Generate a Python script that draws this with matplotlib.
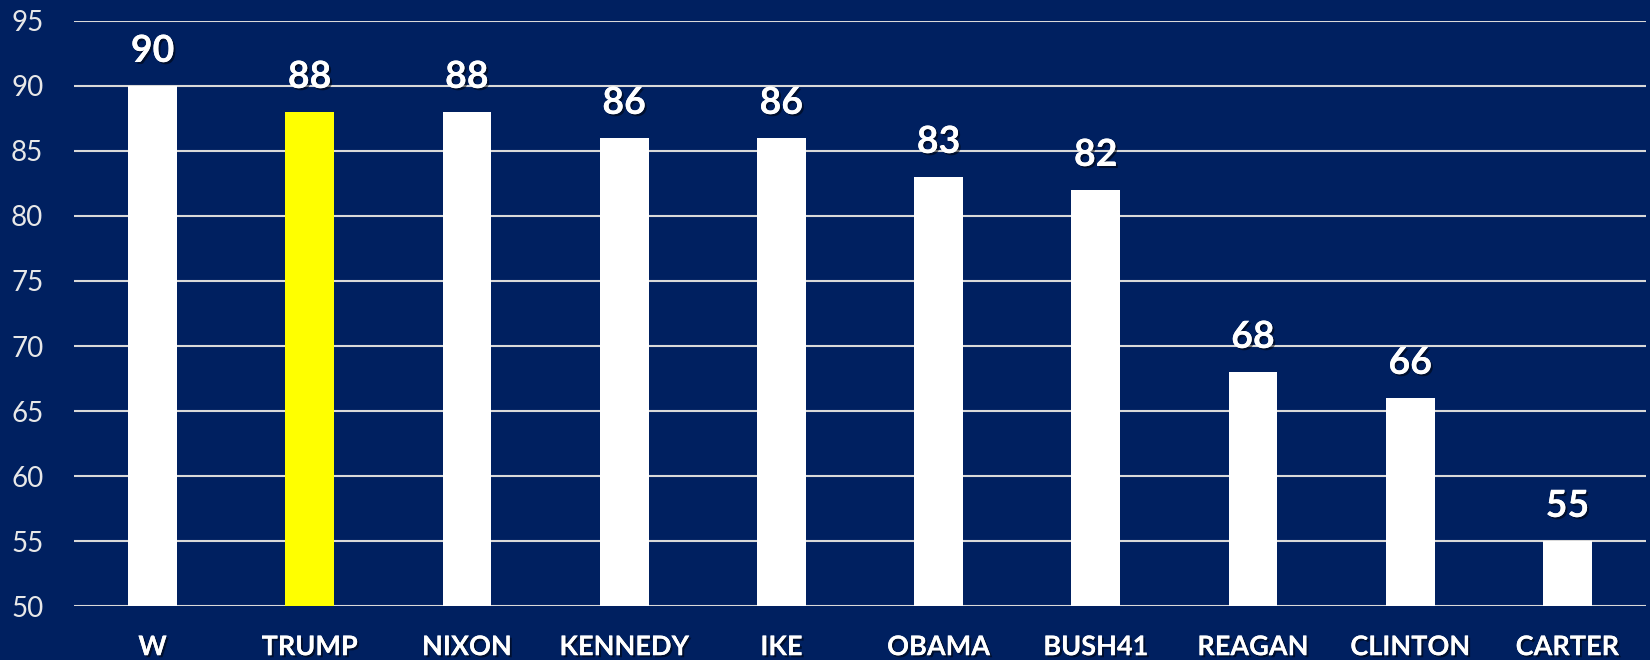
import matplotlib.pyplot as plt
import matplotlib.patheffects as pe

# data
names = ["W", "TRUMP", "NIXON", "KENNEDY", "IKE", "OBAMA", "BUSH41", "REAGAN", "CLINTON", "CARTER"]
values = [90, 88, 88, 86, 86, 83, 82, 68, 66, 55]
highlight = "TRUMP"
yticks = [50, 55, 60, 65, 70, 75, 80, 85, 90, 95]

bg = "#002060"
plt.rcParams['font.family'] = ['Lato', 'DejaVu Sans']

fig = plt.figure(figsize=(16.5, 6.6), dpi=100, facecolor=bg)
ax = fig.add_axes([0.0448, 0.0818, 0.9528, 0.8864], facecolor=bg)

colors = ["#FFFF00" if n == highlight else "#FFFFFF" for n in names]
x = range(len(names))
ax.bar(x, [v - 50 for v in values], bottom=50, width=0.31, color=colors, zorder=3)

shadow = [pe.withSimplePatchShadow(offset=(1.5, -1.5), shadow_rgbFace="black", alpha=0.5), pe.Normal()]
for i, v in enumerate(values):
    ax.annotate(str(v), (i, v), xytext=(0, 13), textcoords="offset points",
                ha="center", va="bottom", fontsize=27, fontweight="bold",
                color="white", path_effects=shadow)

ax.set_xlim(-0.5, len(names) - 0.5)
ax.set_ylim(50, 95)
ax.set_yticks(yticks)
ax.yaxis.grid(True, color="#D9D9D9", linewidth=1.5, zorder=0)
ax.set_axisbelow(True)
for s in ax.spines.values():
    s.set_visible(False)

ax.set_xticks(list(x))
ax.set_xticklabels(names, fontsize=19.5, fontweight="bold", color="white")
for lbl in ax.get_xticklabels():
    lbl.set_path_effects(shadow)
ax.tick_params(axis="x", length=0, pad=21)
ax.tick_params(axis="y", length=0, pad=22, labelsize=20, labelcolor="#E8E8E8")

fig.savefig("out.png", facecolor=bg)
